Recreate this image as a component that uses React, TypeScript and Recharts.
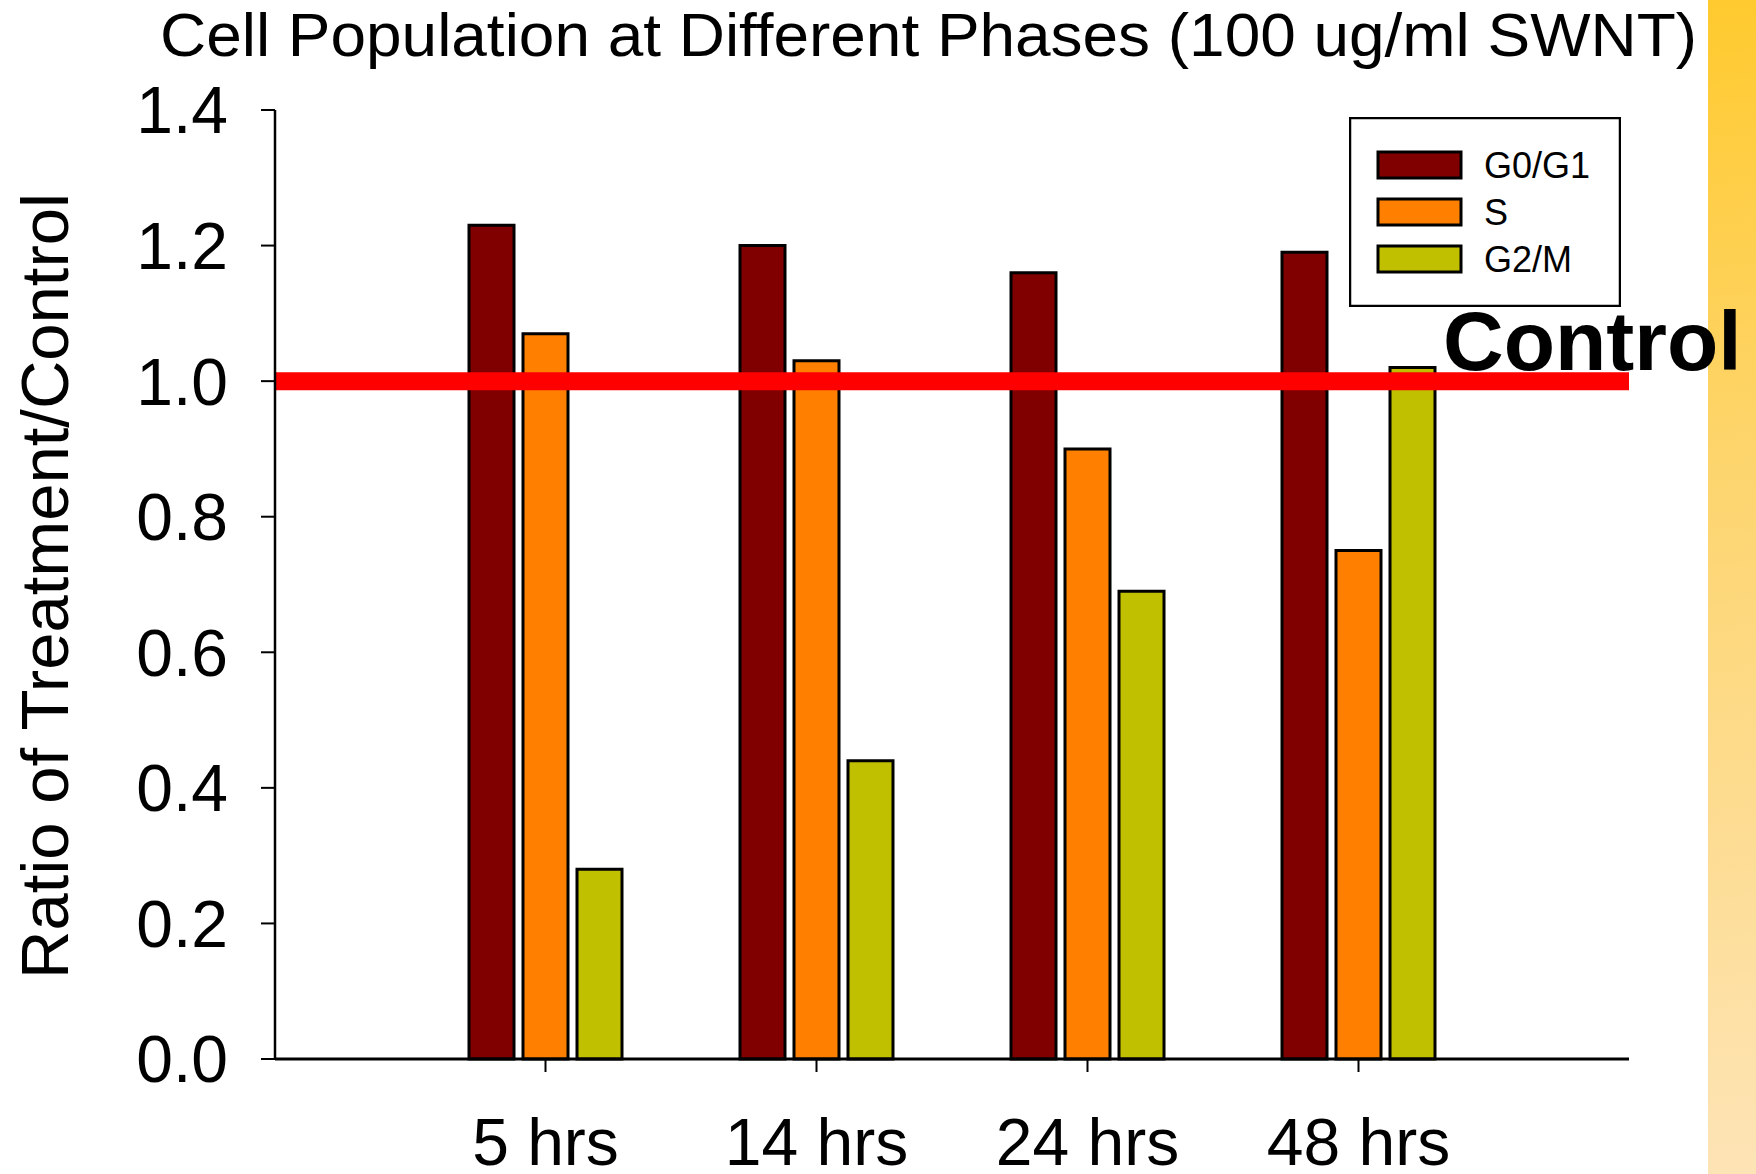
import React from 'react';
import { BarChart, Bar, XAxis, YAxis, ReferenceLine, Legend } from 'recharts';

const categories = ['5 hrs', '14 hrs', '24 hrs', '48 hrs'];
const g0g1Values = [1.23, 1.2, 1.16, 1.19];
const sValues = [1.07, 1.03, 0.9, 0.75];
const g2mValues = [0.28, 0.44, 0.69, 1.02];
const yTicks = [0, 0.2, 0.4, 0.6, 0.8, 1.0, 1.2, 1.4];
const seriesNames = ['G0/G1', 'S', 'G2/M'];
const seriesColors = ['#800000', '#FF8000', '#C0C000'];
const controlValue = 1.0;
const titleText = 'Cell Population at Different Phases (100 ug/ml SWNT)';
const yLabelText = 'Ratio of Treatment/Control';
const controlText = 'Control';

const data = categories.map((c, i) => ({
  time: c,
  g0g1: g0g1Values[i],
  s: sValues[i],
  g2m: g2mValues[i],
}));

const FONT = '"Liberation Sans", Arial, Helvetica, sans-serif';

const LegendBox = (props: any) => {
  const payload = [...(props.payload || [])].sort(
    (a: any, b: any) => seriesNames.indexOf(a.value) - seriesNames.indexOf(b.value)
  );
  return (
    <svg width={272} height={190} style={{ display: 'block' }}>
      <rect x={1} y={1} width={270} height={188} fill="#fff" stroke="#000" strokeWidth={2.5} />
      {payload.map((p: any, i: number) => (
        <g key={i}>
          <rect x={29} y={35 + i * 47} width={83} height={26} fill={p.color} stroke="#000" strokeWidth={3} />
          <text x={135} y={61 + i * 47} fontSize={36} fontFamily={FONT} fill="#000">
            {p.value}
          </text>
        </g>
      ))}
    </svg>
  );
};

const ControlLabel = (props: any) => {
  const vb = props.viewBox || { x: 0, y: 0, width: 0 };
  return (
    <text
      x={vb.x + vb.width - 186}
      y={vb.y - 11}
      fontSize={84}
      fontWeight="bold"
      fontFamily={FONT}
      fill="#000"
    >
      {controlText}
    </text>
  );
};

export default function App() {
  return (
    <div style={{ position: 'absolute', left: 0, top: 0, width: 1756, height: 1174, background: '#fff', overflow: 'hidden' }}>
      <div
        style={{
          position: 'absolute',
          left: 1708,
          top: 0,
          width: 48,
          height: 1174,
          background: 'linear-gradient(172deg, #FFCA2E 0%, #FDD56E 40%, #FDE4B6 100%)',
        }}
      />
      <div style={{ position: 'absolute', left: 0, top: 0 }}>
        <BarChart
          width={1756}
          height={1174}
          data={data}
          margin={{ top: 110, right: 127, bottom: 0, left: 0 }}
          barSize={45}
          barGap={9}
        >
          <XAxis
            dataKey="time"
            type="category"
            height={115}
            padding={{ left: 135, right: 135 }}
            axisLine={{ stroke: '#000', strokeWidth: 3 }}
            tickLine={{ stroke: '#000', strokeWidth: 2 }}
            tickSize={13}
            tickMargin={46}
            tick={{ fontSize: 66, fill: '#000', fontFamily: FONT }}
            interval={0}
          />
          <XAxis
            xAxisId="top"
            dataKey="time"
            orientation="top"
            height={0}
            tick={false}
            tickLine={false}
            axisLine={{ stroke: '#000', strokeWidth: 2.5 }}
          />
          <YAxis
            width={275}
            domain={[0, 1.4]}
            ticks={yTicks}
            interval={0}
            tickFormatter={(v: number) => v.toFixed(1)}
            axisLine={{ stroke: '#000', strokeWidth: 2.5 }}
            tickLine={{ stroke: '#000', strokeWidth: 2 }}
            tickSize={14}
            tickMargin={33}
            tick={{ fontSize: 66, fill: '#000', fontFamily: FONT }}
          />
          <YAxis
            yAxisId="right"
            orientation="right"
            width={0}
            domain={[0, 1.4]}
            tick={false}
            tickLine={false}
            axisLine={{ stroke: '#000', strokeWidth: 2.5 }}
          />
          <Legend
            layout="vertical"
            align="center"
            verticalAlign="middle"
            content={<LegendBox />}
            wrapperStyle={{ left: 1349, top: 117, width: 272, height: 190 }}
          />
          <Bar dataKey="g0g1" name={seriesNames[0]} fill={seriesColors[0]} stroke="#000" strokeWidth={3} isAnimationActive={false} />
          <Bar dataKey="s" name={seriesNames[1]} fill={seriesColors[1]} stroke="#000" strokeWidth={3} isAnimationActive={false} />
          <Bar dataKey="g2m" name={seriesNames[2]} fill={seriesColors[2]} stroke="#000" strokeWidth={3} isAnimationActive={false} />
          <ReferenceLine y={controlValue} stroke="#FF0000" strokeWidth={18} label={<ControlLabel />} />
        </BarChart>
      </div>
      <svg
        width={1756}
        height={1174}
        style={{ position: 'absolute', left: 0, top: 0, pointerEvents: 'none' }}
      >
        <text
          x={160}
          y={56}
          fontSize={62}
          fontFamily={FONT}
          fill="#000"
          textLength={1537}
          lengthAdjust="spacingAndGlyphs"
        >
          {titleText}
        </text>
        <text
          x={68}
          y={586}
          fontSize={67}
          fontFamily={FONT}
          fill="#000"
          textAnchor="middle"
          transform="rotate(-90 68 586)"
        >
          {yLabelText}
        </text>
      </svg>
    </div>
  );
}
